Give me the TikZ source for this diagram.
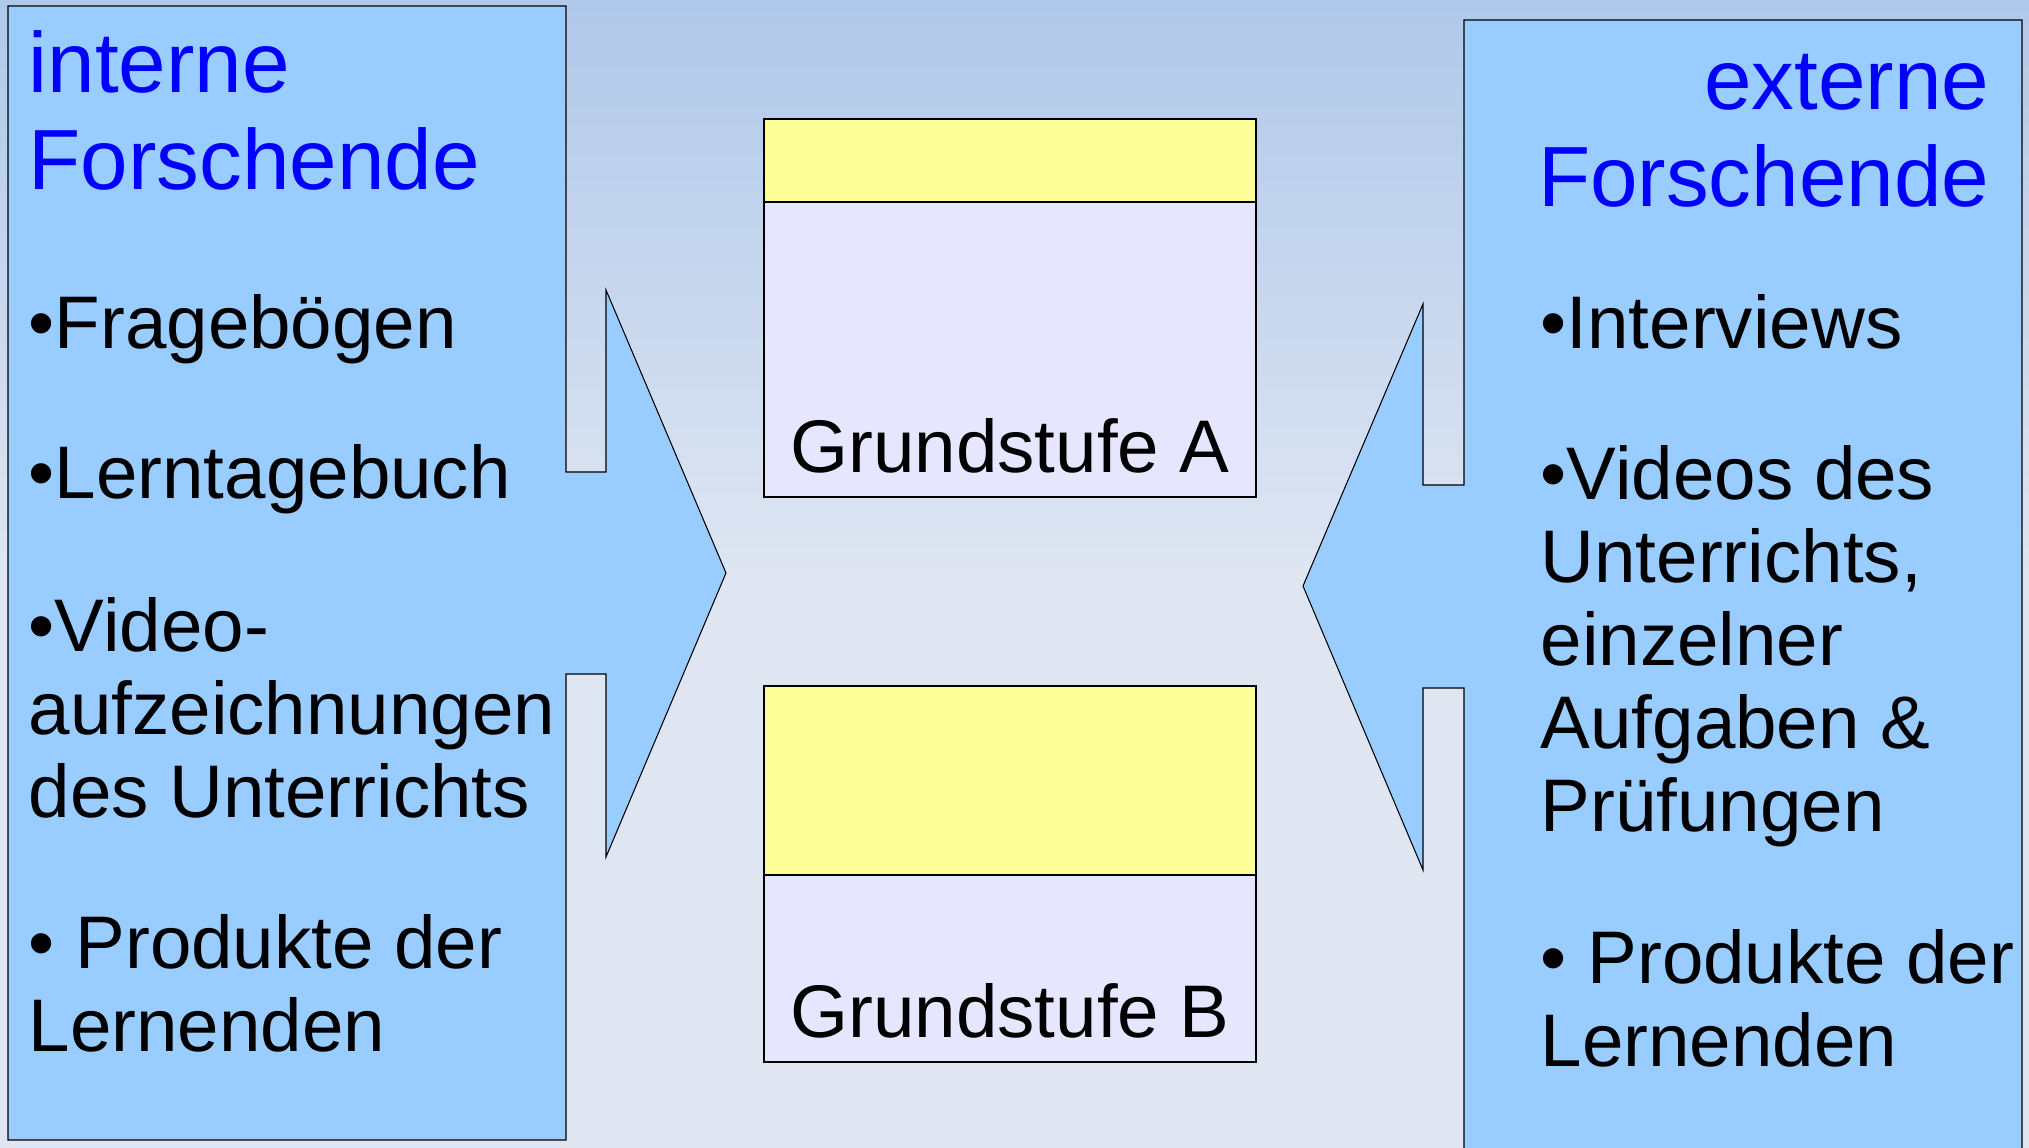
\documentclass[tikz,border=0pt]{standalone}
\usepackage{fontspec}
\setmainfont{Liberation Sans}
\usetikzlibrary{positioning}
\definecolor{kastenblau}{HTML}{99CCFF}
\definecolor{stufegelb}{HTML}{FFFF99}
\definecolor{stufelila}{HTML}{E6E6FF}
\definecolor{himmeloben}{HTML}{B0C8EA}
\definecolor{himmelunten}{HTML}{DFE6F2}
\tikzset{
  kasten/.style={draw=black, line width=0.3pt, fill=kastenblau},
  stufe/.style={draw=black, line width=0.3pt, fill=stufelila},
  titel/.style={font=\fontsize{24.3}{27.4}\selectfont, text=blue, inner sep=0pt},
  eintrag/.style={font=\fontsize{21.2}{23.6}\selectfont, inner sep=0pt, align=left, anchor=base west},
}

\begin{document}
\begin{tikzpicture}[x=0.01cm, y=-0.01cm]
  \useasboundingbox (0,0) rectangle (2029,1148);
  \clip (0,0) rectangle (2029,1148);
  % hintergrund
  \shade[top color=himmeloben, bottom color=himmelunten] (0,0) rectangle (2029,580);
  \fill[himmelunten] (0,580) rectangle (2029,1148);

  % linker kasten mit pfeil
  \draw[kasten] (8,6) -- (566,6) -- (566,472) -- (606,472) -- (606,290) -- (726,573)
    -- (606,857) -- (606,674) -- (566,674) -- (566,1140) -- (8,1140) -- cycle;
  % rechter kasten mit pfeil
  \draw[kasten] (1464,1160) -- (1464,688) -- (1423,688) -- (1423,870) -- (1303,586)
    -- (1423,304) -- (1423,485) -- (1464,485) -- (1464,20) -- (2022,20) -- (2022,1160) -- cycle;

  % die beiden stufen
  \foreach \oben/\gelb/\unten/\name in {119/202/497/A, 686/875/1062/B} {
    \draw[stufe] (764,\oben) rectangle (1256,\unten);
    \draw[stufe, fill=stufegelb] (764,\oben) rectangle (1256,\gelb);
    \node[eintrag, anchor=base] (stufe\name) at (1010,\unten-25) {Grundstufe \name};
  }

  % interne seite (base = letzte zeile)
  \node[titel, anchor=base west, align=left] (intern) at (28,189) {interne\\Forschende};
  \node[eintrag] (frage) at (28,348) {•Fragebögen};
  \node[eintrag] (tagebuch) at (28,498) {•Lerntagebuch};
  \node[eintrag] (video) at (28,817) {•Video-\\aufzeichnungen\\des Unterrichts};
  \node[eintrag] (produktL) at (28,1051) {• Produkte der\\Lernenden};

  % externe seite
  \node[titel, anchor=base east, align=right] (extern) at (1990,206) {externe\\Forschende};
  \node[eintrag] (interview) at (1540,348) {•Interviews};
  \node[eintrag] (videos) at (1540,831) {•Videos des\\Unterrichts,\\einzelner\\Aufgaben \&\\Prüfungen};
  \node[eintrag] (produktR) at (1540,1066) {• Produkte der\\Lernenden};
\end{tikzpicture}
\end{document}
